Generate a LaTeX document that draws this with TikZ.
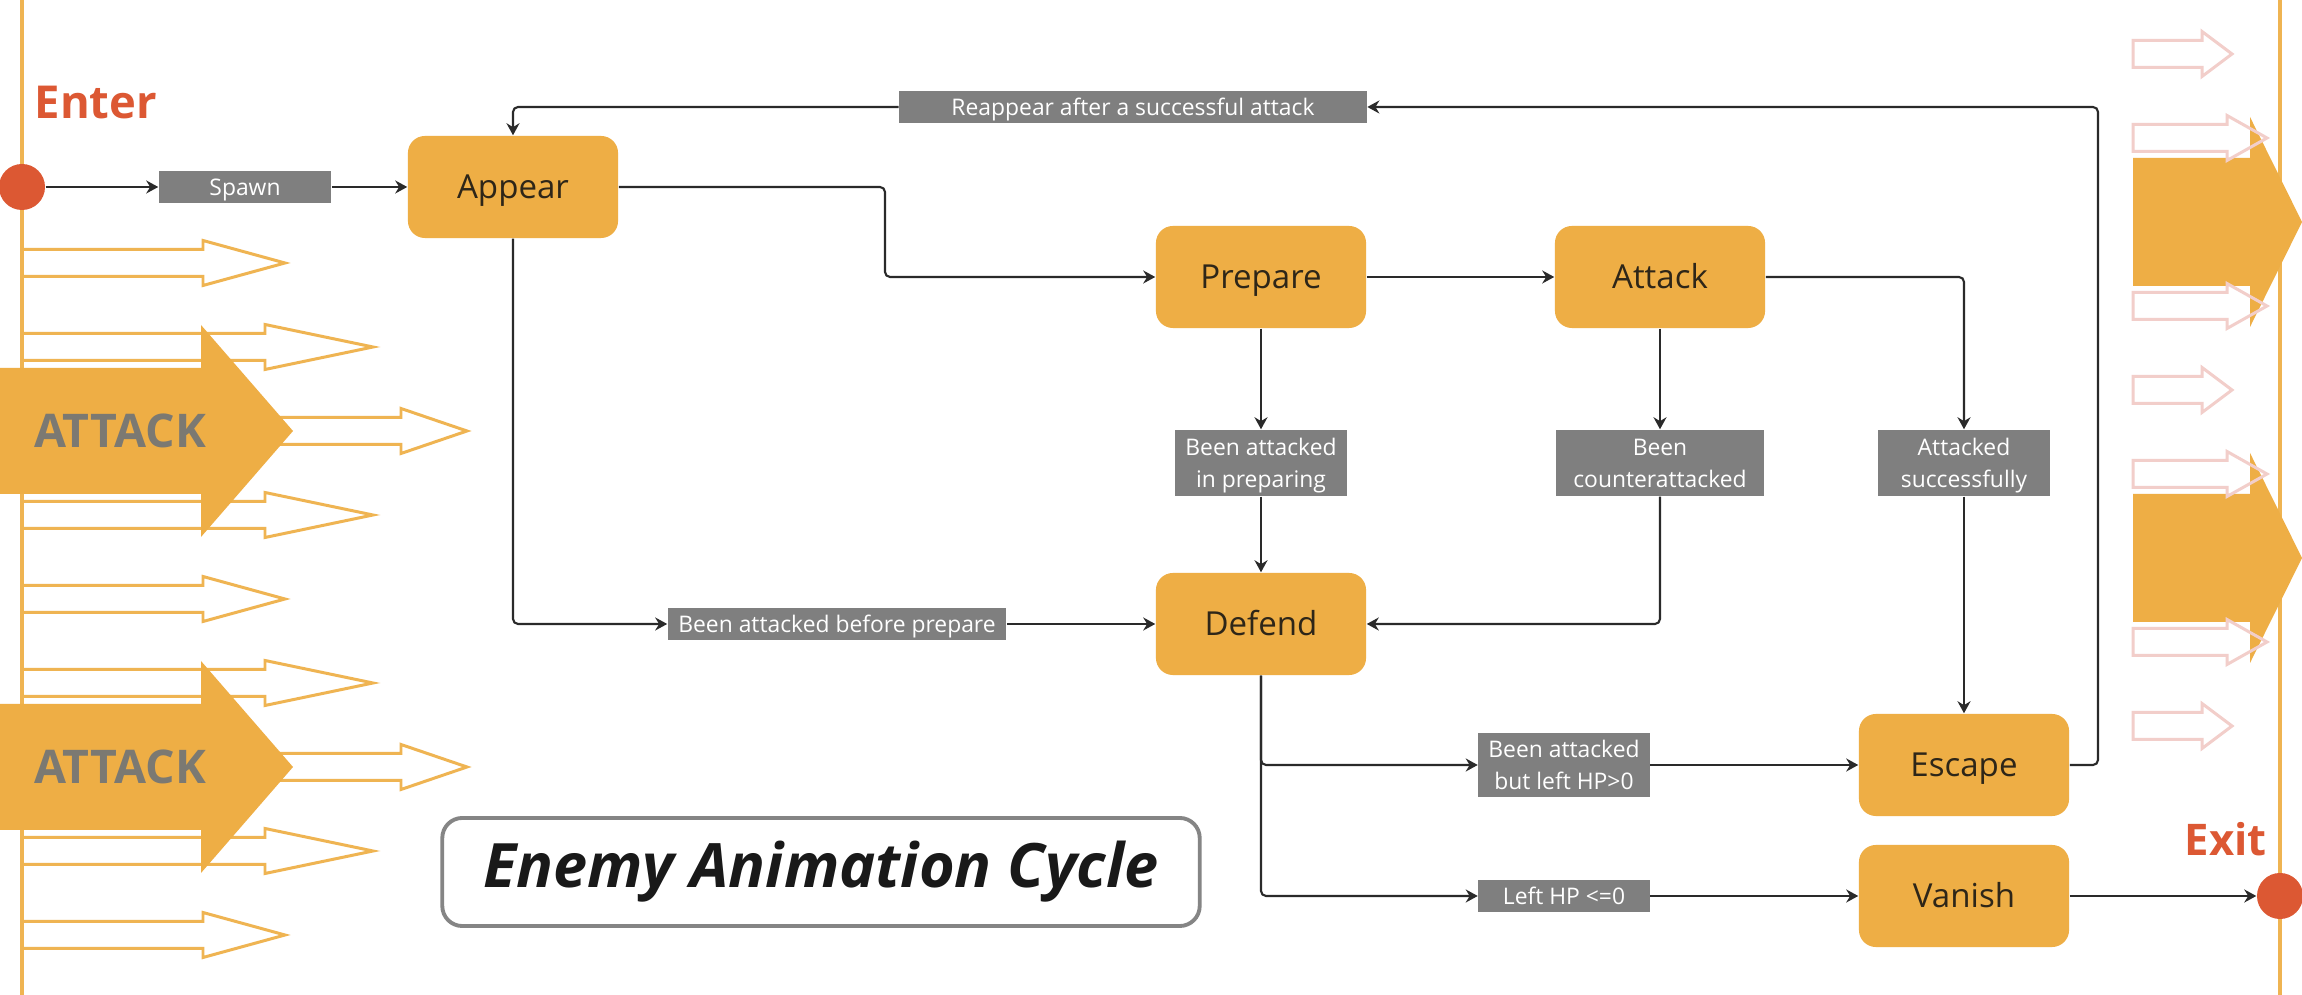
\documentclass[tikz,border=0pt]{standalone}
\usepackage{fontspec}
\setmainfont{Open Sans}
\usetikzlibrary{arrows.meta}
\definecolor{boxor}{HTML}{EEAE45}
\definecolor{lineor}{HTML}{EFB452}
\definecolor{pinkl}{HTML}{F2CECA}
\definecolor{redd}{HTML}{DC5833}
\definecolor{graylab}{HTML}{7F7F7F}
\definecolor{connc}{HTML}{2A2A2A}
\definecolor{attxt}{HTML}{7B7972}
\definecolor{txtdark}{HTML}{2E2618}
\definecolor{titleborder}{HTML}{858585}
\newcommand\leftopen[3]{%
  \draw[lineor, line width=0.85pt] (22,#1-13.5) -- (#2,#1-13.5) -- (#2,#1-22.5) -- (#3,#1) -- (#2,#1+22.5) -- (#2,#1+13.5) -- (22,#1+13.5);}
\newcommand\rightopen[3]{%
  \draw[pinkl, line width=0.85pt] (2133,#1-13.5) -- (#2,#1-13.5) -- (#2,#1-22.5) -- (#3,#1) -- (#2,#1+22.5) -- (#2,#1+13.5) -- (2133,#1+13.5) -- cycle;}
\newcommand\leftbig[1]{%
  \fill[boxor] (0,#1-63) -- (201,#1-63) -- (201,#1-106) -- (293,#1) -- (201,#1+106) -- (201,#1+63) -- (0,#1+63) -- cycle;}
\newcommand\rightbig[1]{%
  \fill[boxor] (2133,#1-64) -- (2250,#1-64) -- (2250,#1-105) -- (2302,#1) -- (2250,#1+105) -- (2250,#1+64) -- (2133,#1+64) -- cycle;}
\newcommand\lnup{\rule{0pt}{6.6pt}}
\newcommand\lndn{\rule[-1.6pt]{0pt}{1.6pt}}
\begin{document}
\begin{tikzpicture}[x=0.01cm,y=-0.01cm,
  state/.style={fill=boxor, rounded corners=1.7mm, minimum width=2.1cm, minimum height=1.02cm, inner sep=0pt, text=txtdark, text height=6.7pt, text depth=0pt, font=\fontsize{9.4}{11}\selectfont},
  lab/.style={fill=graylab, text=white, inner sep=0pt, minimum height=0.32cm, text height=4.65pt, text depth=0pt, font=\fontsize{6.5}{9.1}\selectfont},
  lab2/.style={fill=graylab, text=white, inner sep=0pt, minimum height=0.66cm, font=\fontsize{6.5}{9.1}\selectfont, align=center},
  conn/.style={draw=connc, line width=0.6pt, rounded corners=0.5mm, -{Stealth[length=1.2mm,width=1.3mm]}},
  bigtxt/.style={font=\bfseries\fontsize{12.4}{14}\selectfont},
  dot/.style={circle, fill=redd, minimum size=0.46cm, inner sep=0pt}
]
\useasboundingbox (0,0) rectangle (2302,995);
\fill[white] (0,0) rectangle (2302,995);

% left decoration
\draw[lineor, line width=1.1pt] (22,0) -- (22,995);
\leftopen{263}{203}{285}
\leftopen{347}{265}{373}
\leftopen{431}{401}{467}
\leftopen{515}{265}{373}
\leftopen{599}{203}{285}
\leftopen{683}{265}{373}
\leftopen{767}{401}{467}
\leftopen{851}{265}{373}
\leftopen{935}{203}{285}
\leftbig{431}
\leftbig{767}
\node[font=\bfseries\fontsize{13.2}{15}\selectfont, text=attxt] (att1) at (120,431) {ATTACK};
\node[font=\bfseries\fontsize{13.2}{15}\selectfont, text=attxt] (att2) at (120,767) {ATTACK};

% right decoration
\draw[lineor, line width=1.1pt] (2280,0) -- (2280,995);
\rightbig{222}
\rightbig{558}
\rightopen{54}{2202}{2232}
\rightopen{138}{2227}{2267}
\rightopen{306}{2227}{2267}
\rightopen{390}{2202}{2232}
\rightopen{474}{2227}{2267}
\rightopen{642}{2227}{2267}
\rightopen{726}{2202}{2232}

% enter / exit
\node[dot] (enter) at (22,187) {};
\node[dot] (exit) at (2280,896) {};
\node[font=\bfseries\fontsize{12.9}{14}\selectfont, text=redd, anchor=base west, inner sep=0pt] (entertxt) at (34,119) {Enter};
\node[bigtxt, text=redd, anchor=base west, inner sep=0pt] (exittxt) at (2184,856) {Exit};

% states
\node[state] (appear) at (513,187) {Appear};
\node[state] (prepare) at (1261,277) {Prepare};
\node[state] (attack) at (1660,277) {Attack};
\node[state] (defend) at (1261,624) {Defend};
\node[state] (escape) at (1964,765) {Escape};
\node[state] (vanish) at (1964,896) {Vanish};

% labels
\node[lab, minimum width=1.72cm] (spawn) at (245,187) {Spawn};
\node[lab, minimum width=4.67cm] (reap) at (1133,107) {Reappear after a successful attack};
\node[lab, minimum width=3.38cm] (bbp) at (837,624) {Been attacked before prepare};
\node[lab2, minimum width=1.72cm] (bip) at (1261,463) {\lnup Been attacked\\in preparing\lndn};
\node[lab2, minimum width=2.07cm] (bca) at (1660,463) {\lnup Been\\counterattacked\lndn};
\node[lab2, minimum width=1.71cm] (asu) at (1964,463) {\lnup Attacked\\successfully\lndn};
\node[lab2, minimum width=1.71cm, minimum height=0.64cm] (blh) at (1564,765) {\lnup Been attacked\\but left HP>0\lndn};
\node[lab, minimum width=1.71cm, minimum height=0.31cm] (lhp) at (1564,896) {Left HP <=0};

% title
\node[draw=titleborder, line width=1.1pt, rounded corners=2mm, fill=white, minimum width=7.57cm, minimum height=1.08cm, text=black!90, font=\bfseries\itshape\fontsize{17.4}{20}\selectfont] (title) at (821,872) {Enemy Animation Cycle};

% connectors
\draw[conn] (enter) -- (spawn);
\draw[conn] (spawn) -- (appear);
\draw[conn] (appear.east) -- (885,187) |- (prepare.west);
\draw[conn] (prepare) -- (attack);
\draw[conn] (escape.east) -- (2098,765) |- (reap.east);
\draw[conn] (reap.west) -| (appear.north);
\draw[conn] (appear.south) |- (bbp.west);
\draw[conn] (bbp) -- (defend);
\draw[conn] (prepare) -- (bip);
\draw[conn] (bip) -- (defend);
\draw[conn] (attack) -- (bca);
\draw[conn] (bca.south) |- (defend.east);
\draw[conn] (attack.east) -| (asu.north);
\draw[conn] (asu) -- (escape);
\draw[conn] (defend.south) |- (blh.west);
\draw[conn] (blh) -- (escape);
\draw[conn] (defend.south) |- (lhp.west);
\draw[conn] (lhp) -- (vanish);
\draw[conn] (vanish) -- (exit);
\end{tikzpicture}
\end{document}
